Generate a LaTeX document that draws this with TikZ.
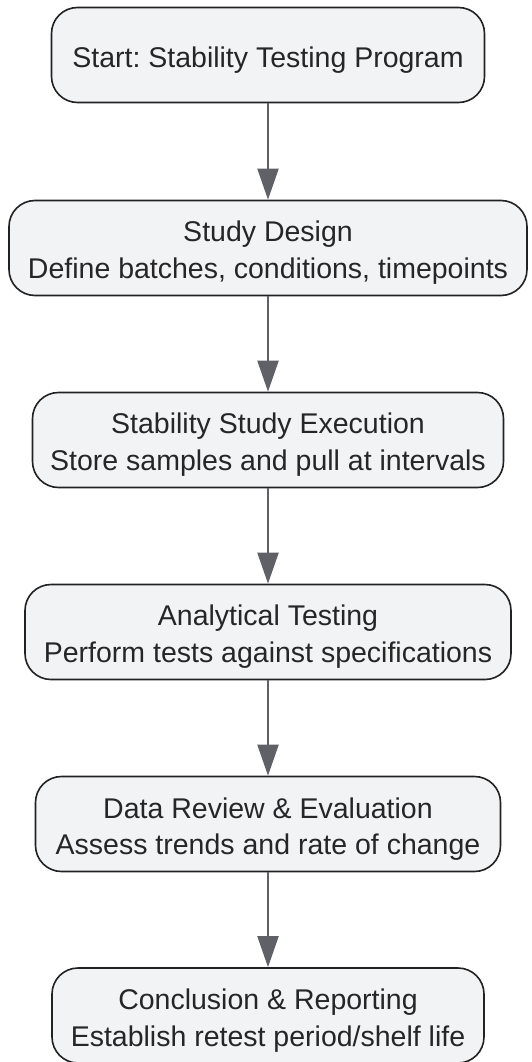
\documentclass[tikz,border=0pt]{standalone}
\usepackage{fontspec}
\setmainfont{Liberation Sans}
\usetikzlibrary{arrows.meta}
\definecolor{boxfill}{HTML}{F2F3F5}
\definecolor{boxline}{HTML}{222222}
\definecolor{arrowcol}{HTML}{5F6166}
\definecolor{txt}{HTML}{262626}
\newcommand\steptext[1]{\raisebox{-5pt}[\height][\depth]{\begin{tabular}{@{}c@{}}#1\end{tabular}}}
\frenchspacing
\begin{document}
\begin{tikzpicture}[x=1pt,y=-1pt,
  stepbox/.style={draw=boxline, line width=1.6pt, fill=boxfill, rounded corners=26pt,
    minimum height=95pt, inner sep=0pt, text=txt,
    font=\fontsize{28.5}{36.7}\selectfont\frenchspacing},
  flowarrow/.style={draw=arrowcol, line width=2pt, -{Triangle[length=31pt,width=21pt]}}]
\useasboundingbox (0,0) rectangle (531,1062);
\node[stepbox, minimum width=433pt] (s1) at (268,55) {\steptext{Start: Stability Testing Program}};
\node[stepbox, minimum width=518pt] (s2) at (268,248) {\steptext{Study Design\\Define batches, conditions, timepoints}};
\node[stepbox, minimum width=471pt] (s3) at (268,440) {\steptext{Stability Study Execution\\Store samples and pull at intervals}};
\node[stepbox, minimum width=486pt] (s4) at (268,632) {\steptext{Analytical Testing\\Perform tests against specifications}};
\node[stepbox, minimum width=465pt] (s5) at (268,824) {\steptext{Data Review \& Evaluation\\Assess trends and rate of change}};
\node[stepbox, minimum width=432pt] (s6) at (268,1015.5) {\steptext{Conclusion \& Reporting\\Establish retest period/shelf life}};
\draw[flowarrow] (s1) -- (s2);
\draw[flowarrow] (s2) -- (s3);
\draw[flowarrow] (s3) -- (s4);
\draw[flowarrow] (s4) -- (s5);
\draw[flowarrow] (s5) -- (s6);
\end{tikzpicture}
\end{document}
